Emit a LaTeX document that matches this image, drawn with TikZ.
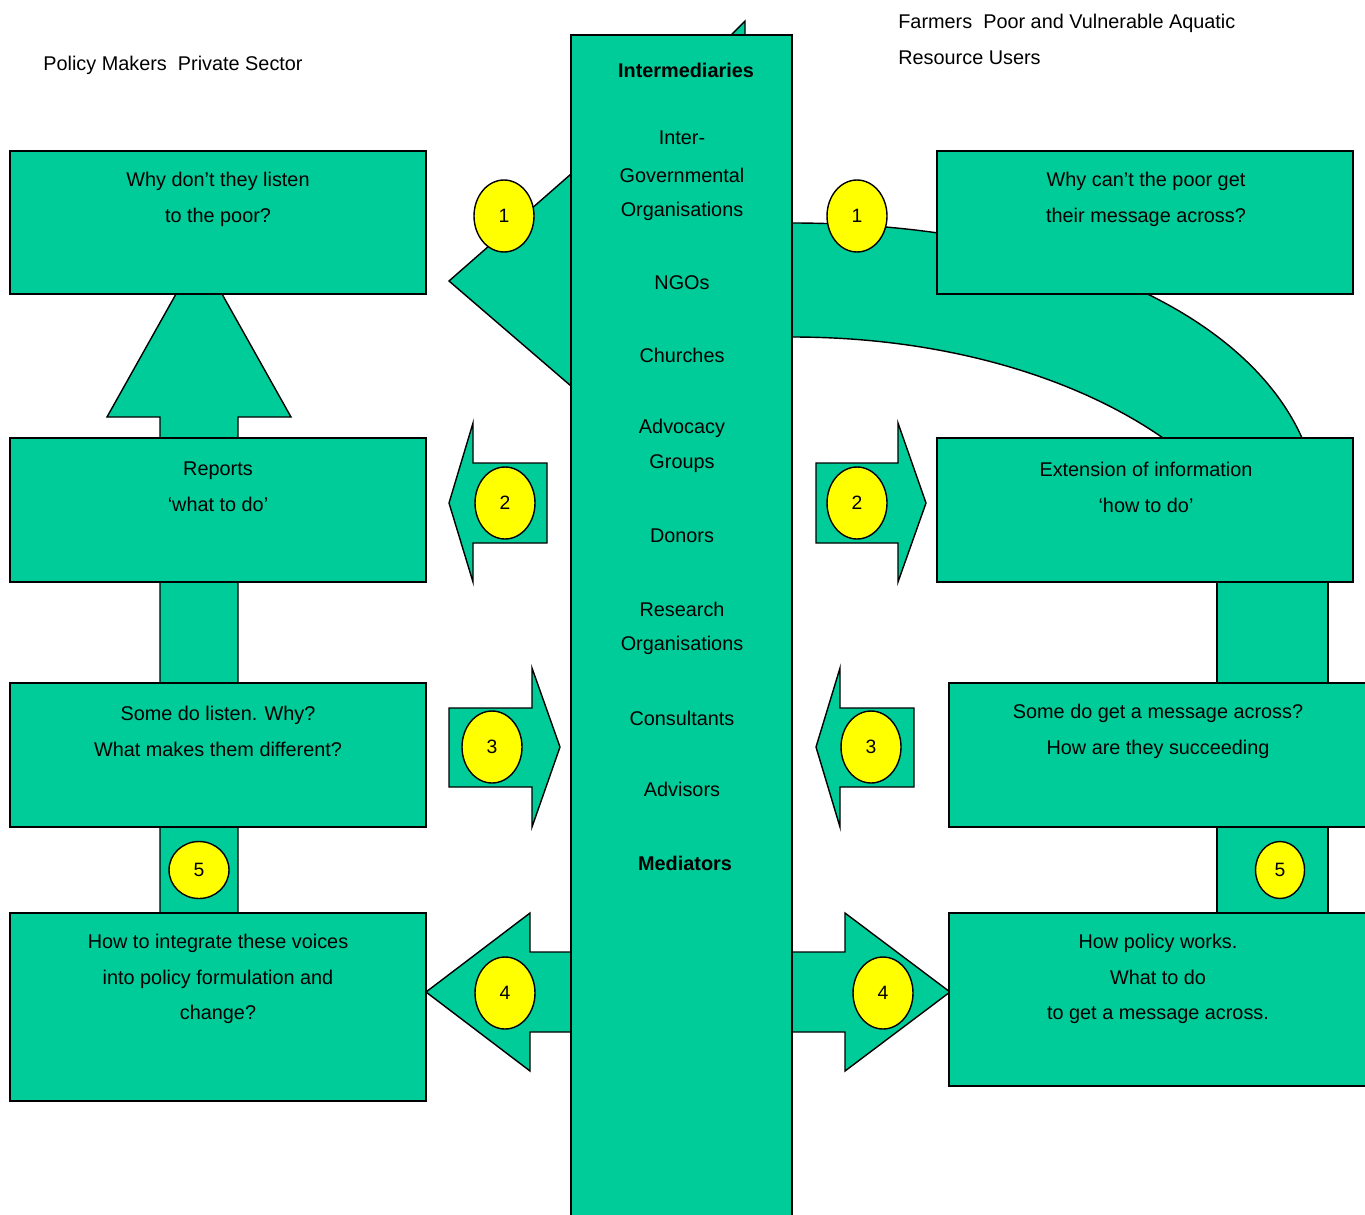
\documentclass[tikz,border=0pt]{standalone}
\usepackage{fontspec}
\setmainfont{Liberation Sans}
\usetikzlibrary{shapes.geometric}
\definecolor{flowgreen}{RGB}{0,204,153}
\definecolor{badgeyellow}{RGB}{255,255,0}
\begin{document}
\begin{tikzpicture}[x=0.02cm,y=-0.02cm,
    block/.style={draw=black,fill=flowgreen,line width=0.8pt},
    badge/.style={ellipse,draw=black,fill=badgeyellow,line width=0.8pt,minimum width=1.2cm,minimum height=1.44cm,inner sep=0pt,font=\fontsize{11}{13}\selectfont},
    txt/.style={align=center,inner sep=0pt,font=\fontsize{11.3}{20.4}\selectfont}]
\clip (0,0) rectangle (1365,1214);
% shapes behind the column
\draw[block] (730,36) -- (745,21) -- (745,36) -- cycle;
\draw[block] (792,223) -- (571,223) -- (571,174) -- (449,281) -- (571,386) -- (571,337) -- (792,337)
    .. controls (950,337) and (1080,380) .. (1163,438) -- (1302,438)
    .. controls (1245,310) and (1050,223) .. (792,223) -- cycle;
\draw[block] (160,913) -- (160,417) -- (107,417) -- (199,253) -- (291,417) -- (238,417) -- (238,913) -- cycle;
\draw[block] (1217,560) rectangle (1328,930);
\draw[block] (547,463) -- (473,463) -- (473,423) -- (449,503) -- (473,582) -- (473,543) -- (547,543) -- cycle;
\draw[block] (816,463) -- (898,463) -- (898,423) -- (926,503) -- (898,582) -- (898,543) -- (816,543) -- cycle;
\draw[block] (449,708) -- (532,708) -- (532,668) -- (560,747) -- (532,827) -- (532,787) -- (449,787) -- cycle;
\draw[block] (914,708) -- (840,708) -- (840,668) -- (816,747) -- (840,827) -- (840,787) -- (914,787) -- cycle;
\draw[block] (600,952) -- (530,952) -- (530,913) -- (426,992) -- (530,1071) -- (530,1032) -- (600,1032) -- cycle;
\draw[block] (760,952) -- (845,952) -- (845,913) -- (950,992) -- (845,1071) -- (845,1032) -- (760,1032) -- cycle;
% column and boxes
\draw[block] (571,35) rectangle (792,1230);
\draw[block] (10,151) rectangle (426,294);
\draw[block] (10,438) rectangle (426,582);
\draw[block] (10,683) rectangle (426,827);
\draw[block] (10,913) rectangle (426,1101);
\draw[block] (937,151) rectangle (1353,294);
\draw[block] (937,438) rectangle (1353,582);
\draw[block] (949,683) rectangle (1380,827);
\draw[block] (949,913) rectangle (1380,1086);
% numbered badges
\node[badge] (oneL) at (504,216) {1};
\node[badge] (oneR) at (857,216) {1};
\node[badge] (twoL) at (505,503) {2};
\node[badge] (twoR) at (857,503) {2};
\node[badge] (threeL) at (492,747) {3};
\node[badge] (threeR) at (871,747) {3};
\node[badge] (fourL) at (505,993) {4};
\node[badge] (fourR) at (883,993) {4};
\node[badge,minimum height=1.14cm] (fiveL) at (199,870) {5};
\node[badge,minimum width=0.98cm,minimum height=1.14cm] (fiveR) at (1280,870) {5};
% headings
\node[txt,anchor=west] (policy) at (43,65) {Policy Makers\ \ Private Sector};
\node[txt,anchor=west,align=left] (farmers) at (898,39.5) {Farmers\ \ Poor and Vulnerable Aquatic\\Resource Users};
% column labels
\node[txt,font=\fontsize{11.3}{20.4}\selectfont\bfseries] (intermed) at (686,70) {Intermediaries};
\node[txt] (inter) at (682,138) {Inter-};
\node[txt] (govern) at (682,175) {Governmental};
\node[txt] (orgs) at (682,211) {Organisations};
\node[txt] (ngos) at (682,283) {NGOs};
\node[txt] (church) at (682,355) {Churches};
\node[txt] (advoc) at (682,428) {Advocacy};
\node[txt] (groups) at (682,464) {Groups};
\node[txt] (donors) at (682,536) {Donors};
\node[txt] (research) at (682,609) {Research};
\node[txt] (resorgs) at (682,645) {Organisations};
\node[txt] (consult) at (682,718) {Consultants};
\node[txt] (advis) at (682,789) {Advisors};
\node[txt,font=\fontsize{11.3}{20.4}\selectfont\bfseries] (mediat) at (685,863) {Mediators};
% box texts
\node[txt] (listen) at (218,199) {Why don’t they listen\\to the poor?};
\node[txt] (reports) at (218,487) {Reports\\‘what to do’};
\node[txt] (somelisten) at (218,731.5) {Some do listen. Why?\\What makes them different?};
\node[txt] (integrate) at (218,979) {How to integrate these voices\\into policy formulation and\\change?};
\node[txt] (message) at (1146,199) {Why can’t the poor get\\their message across?};
\node[txt] (extension) at (1146,487) {Extension of information\\‘how to do’};
\node[txt] (someget) at (1158,731.5) {Some do get a message across?\\How are they succeeding};
\node[txt] (policyworks) at (1158,979) {How policy works.\\What to do\\to get a message across.};
\end{tikzpicture}
\end{document}
